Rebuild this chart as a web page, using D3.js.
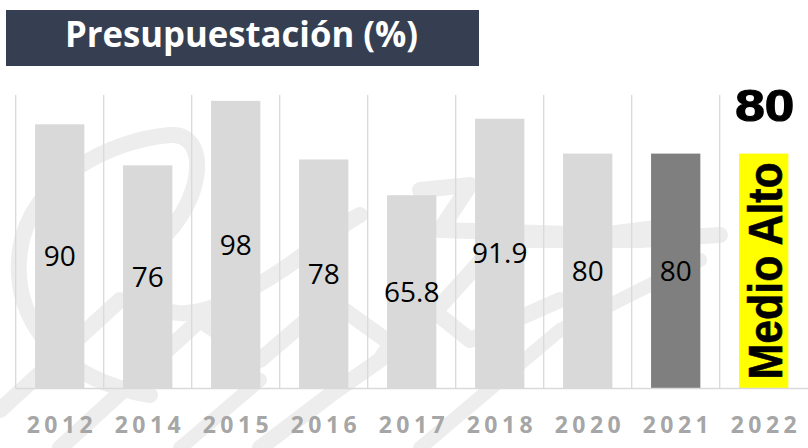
<!DOCTYPE html>
<html>
<head>
<meta charset="utf-8">
<script src="https://cdn.jsdelivr.net/npm/d3@7"></script>
<style>
  html, body { margin: 0; padding: 0; background: #ffffff; }
  svg { display: block; }
</style>
</head>
<body>
<svg id="chart" width="808" height="448"></svg>
<script>
// ---- data ----
const years = ["2012", "2014", "2015", "2016", "2017", "2018", "2020", "2021", "2022"];
const values = [90, 76, 98, 78, 65.8, 91.9, 80, 80, 80];
const valueLabels = ["90", "76", "98", "78", "65.8", "91.9", "80", "80", "Medio Alto"];
const barColors = ["#d9d9d9", "#d9d9d9", "#d9d9d9", "#d9d9d9", "#d9d9d9", "#d9d9d9", "#d9d9d9", "#7f7f7f", "#ffff00"];
const title = "Presupuestación (%)";
const highlightValue = "80";

const W = 808, H = 448;
const svg = d3.select("#chart");

const margin = { left: 15.7, right: 0.3, top: 95, bottom: 60 };
const x = d3.scaleBand().domain(years).range([margin.left, W - margin.right]).paddingInner(0.44).paddingOuter(0.22);
const y = d3.scaleLinear().domain([0, 100]).range([388, 95]);
const step = x.step();

// ---- faint watermark (decorative) ----
const wm = svg.append("g").attr("fill", "none").attr("stroke", "#ededed").attr("stroke-linecap", "round").attr("stroke-linejoin", "round");
wm.append("path").attr("stroke-width", 16)
  .attr("d", "M150,395 C60,380 10,320 20,250 C30,180 110,140 170,135 C210,132 205,200 160,240 C120,280 150,340 230,300 C300,265 330,230 360,215");
wm.append("path").attr("stroke-width", 16)
  .attr("d", "M0,410 L120,300 M60,448 L200,320 L260,360 L330,300 L400,350 L500,240 L640,240 L720,235");
wm.append("path").attr("stroke-width", 16)
  .attr("d", "M420,190 L470,185 L440,230 L600,235 L680,225 M260,448 L330,395 L380,360 L420,300 L470,340 L560,300");
wm.append("path").attr("stroke-width", 14)
  .attr("d", "M180,448 L260,380 M420,448 L560,330 L700,260");

// ---- title ----
svg.append("rect").attr("x", 6).attr("y", 10).attr("width", 473).attr("height", 56).attr("fill", "#353f51");
svg.append("text").attr("x", 241.5).attr("y", 47)
  .attr("text-anchor", "middle")
  .attr("font-family", "'Open Sans', sans-serif").attr("font-weight", 700)
  .attr("font-size", 35).attr("fill", "#ffffff")
  .attr("textLength", 353).attr("lengthAdjust", "spacingAndGlyphs")
  .text(title);

// ---- vertical separators ----
svg.append("g").selectAll("line").data(years).join("line")
  .attr("x1", d => x(d) - step * 0.22).attr("x2", d => x(d) - step * 0.22)
  .attr("y1", y(100)).attr("y2", y(0))
  .attr("stroke", "#d9d9d9").attr("stroke-width", 1.3);

// ---- bars ----
const data = years.map((d, i) => ({ year: d, v: values[i], label: valueLabels[i], color: barColors[i] }));
svg.append("g").selectAll("rect").data(data).join("rect")
  .attr("x", d => x(d.year)).attr("width", x.bandwidth())
  .attr("y", d => y(d.v)).attr("height", d => y(0) - y(d.v))
  .attr("fill", d => d.color);

// ---- baseline ----
svg.append("line").attr("x1", margin.left).attr("x2", W).attr("y1", y(0) + 0.5).attr("y2", y(0) + 0.5)
  .attr("stroke", "#d9d9d9").attr("stroke-width", 1.3);

// ---- value labels ----
const normal = data.slice(0, data.length - 1);
svg.append("g").selectAll("text").data(normal).join("text")
  .attr("x", d => x(d.year) + x.bandwidth() / 2)
  .attr("y", d => (y(d.v) + y(0)) / 2)
  .attr("dy", "0.36em")
  .attr("text-anchor", "middle")
  .attr("font-family", "'Open Sans', sans-serif")
  .attr("font-size", 28).attr("fill", "#000000")
  .text(d => d.label);

// ---- highlighted last bar ----
const last = data[data.length - 1];
const cx = x(last.year) + x.bandwidth() / 2;
const cy = (y(last.v) + y(0)) / 2;
svg.append("text")
  .attr("transform", `translate(${cx + 1},${cy}) rotate(-90)`)
  .attr("text-anchor", "middle").attr("dy", "0.36em")
  .attr("font-family", "'Liberation Sans', Arial, sans-serif").attr("font-weight", 700)
  .attr("font-size", 48).attr("fill", "#000000")
  .attr("stroke", "#000000").attr("stroke-width", 0.6)
  .attr("textLength", 217).attr("lengthAdjust", "spacingAndGlyphs")
  .text(last.label);
svg.append("text")
  .attr("x", cx + 1).attr("y", 121)
  .attr("text-anchor", "middle")
  .attr("font-family", "'Liberation Sans', Arial, sans-serif").attr("font-weight", 700)
  .attr("font-size", 45).attr("fill", "#000000")
  .attr("stroke", "#000000").attr("stroke-width", 1.2)
  .attr("textLength", 59).attr("lengthAdjust", "spacingAndGlyphs")
  .text(highlightValue);

// ---- x axis labels ----
const ls = 4.5;
const xAxis = d3.axisBottom(x).tickSize(0).tickPadding(0);
const ax = svg.append("g").attr("transform", `translate(${ls / 2},0)`).call(xAxis);
ax.select(".domain").remove();
ax.selectAll("text")
  .attr("y", 433).attr("dy", null)
  .attr("font-family", "'Open Sans', sans-serif").attr("font-weight", 700)
  .attr("font-size", 23).attr("fill", "#a6a6a6")
  .attr("letter-spacing", ls + "px");
ax.selectAll(".tick").attr("transform", d => `translate(${x(d) + x.bandwidth() / 2},0)`);
</script>
</body>
</html>
